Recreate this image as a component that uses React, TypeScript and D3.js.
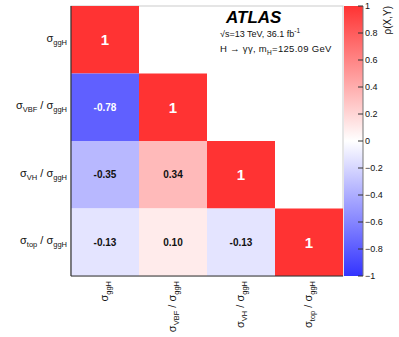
import React from "react";
import * as d3 from "d3";

const categories = ["ggH", "VBF", "VH", "top"];
// lower-triangular correlation matrix rows (row i, col j<=i)
const row0 = [1];
const row1 = [-0.78, 1];
const row2 = [-0.35, 0.34, 1];
const row3 = [-0.13, 0.10, -0.13, 1];
const matrix = [row0, row1, row2, row3];
const colorTicks = [1, 0.8, 0.6, 0.4, 0.2, 0, -0.2, -0.4, -0.6, -0.8, -1];

const W = 399, H = 337;
const X0 = 71, X1 = 343, Y0 = 6, Y1 = 276;
const CB0 = 344, CB1 = 363;
const FONT = "Liberation Sans, Arial, Helvetica, sans-serif";

function SigmaLabel({ name, ratio, ...rest }: any) {
  const main = 11, sub = 7.5;
  return (
    <text fontFamily={FONT} fontSize={main} fill="#111" {...rest}>
      <tspan>σ</tspan>
      <tspan fontSize={sub} dy={3}>{name}</tspan>
      {ratio ? (
        <>
          <tspan dy={-3}> / σ</tspan>
          <tspan fontSize={sub} dy={3}>ggH</tspan>
        </>
      ) : null}
    </text>
  );
}

export default function App() {
  const x = d3.scaleBand<string>().domain(categories).range([X0, X1]);
  const y = d3.scaleBand<string>().domain(categories).range([Y0, Y1]);
  const color = d3.scaleLinear<string>().domain([-1, 0, 1]).range(["#3333ff", "#ffffff", "#ff3333"]);
  const cy = d3.scaleLinear().domain([-1, 1]).range([Y1, Y0]);

  const cells: any[] = [];
  matrix.forEach((row, i) => {
    row.forEach((v, j) => {
      cells.push({ r: categories[i], c: categories[j], v, diag: i === j });
    });
  });

  return (
    <svg width={W} height={H} style={{ position: "absolute", left: 0, top: 0, background: "#fff" }}>
      <defs>
        <linearGradient id="cb" x1="0" y1="1" x2="0" y2="0">
          {d3.range(0, 1.0001, 0.1).map((t) => (
            <stop key={t} offset={t} stopColor={color(-1 + 2 * t)} />
          ))}
        </linearGradient>
      </defs>
      {/* frame */}
      <rect x={X0} y={Y0} width={X1 - X0} height={Y1 - Y0} fill="#fff" stroke="#ccc" strokeWidth={1} />
      {cells.map((d, k) => (
        <g key={k}>
          <rect x={x(d.c)} y={y(d.r)} width={x.bandwidth()} height={y.bandwidth()} fill={color(d.v)} />
          <text
            x={x(d.c)! + x.bandwidth() / 2}
            y={y(d.r)! + y.bandwidth() / 2}
            textAnchor="middle"
            dominantBaseline="central"
            fontFamily={FONT}
            fontWeight="bold"
            fontSize={d.diag ? 15 : 10}
            fill={d.diag || Math.abs(d.v) > 0.6 ? "#fff" : "#111"}
          >
            {d.diag ? "1" : d3.format(".2f")(d.v).replace("−", "-")}
          </text>
        </g>
      ))}
      <line x1={X0} x2={X0} y1={Y0} y2={Y1} stroke="#333" strokeWidth={1.2} />
      <line x1={X0} x2={X1} y1={Y1} y2={Y1} stroke="#333" strokeWidth={1.2} />

      {/* y labels */}
      {categories.map((c, i) => (
        <SigmaLabel key={c} name={c} ratio={i > 0} x={X0 - 4} y={y(c)! + y.bandwidth() / 2 + 2} textAnchor="end" />
      ))}
      {/* x labels */}
      {categories.map((c, i) => (
        <SigmaLabel
          key={c}
          name={c}
          ratio={i > 0}
          textAnchor="end"
          transform={`translate(${x(c)! + x.bandwidth() / 2 + 3},${Y1 + 5}) rotate(-90)`}
        />
      ))}

      {/* color bar */}
      <rect x={CB0} y={Y0} width={CB1 - CB0} height={Y1 - Y0} fill="url(#cb)" />
      <line x1={CB1} x2={CB1} y1={Y0} y2={Y1} stroke="#777" strokeWidth={1} />
      {colorTicks.map((t) => (
        <g key={t}>
          <line x1={CB1 - 5} x2={CB1} y1={cy(t)} y2={cy(t)} stroke="#333" strokeWidth={1} />
          <text x={CB1 + 2} y={cy(t)} dominantBaseline="central" fontFamily={FONT} fontSize={9} fill="#111">
            {t === 0 ? "0" : t < 0 ? "−" + String(Math.abs(t)) : String(t)}
          </text>
        </g>
      ))}
      <text
        transform={`translate(${391},${Y0}) rotate(-90)`}
        textAnchor="end"
        fontFamily={FONT}
        fontSize={10}
        fill="#111"
      >
        ρ(X,Y)
      </text>

      {/* ATLAS labels */}
      <text x={226} y={23} fontFamily={FONT} fontWeight="bold" fontStyle="italic" fontSize={17} fill="#000">
        ATLAS
      </text>
      <text x={220} y={37} fontFamily={FONT} fontSize={9} fill="#111">
        <tspan>√s=13 TeV, 36.1 fb</tspan>
        <tspan fontSize={6.5} dy={-4}>-1</tspan>
      </text>
      <text x={220} y={52} fontFamily={FONT} fontSize={9.5} letterSpacing={0.3} fill="#111">
        <tspan>H → γγ,  m</tspan>
        <tspan fontSize={6.5} dy={3}>H</tspan>
        <tspan dy={-3}>=125.09 GeV</tspan>
      </text>
    </svg>
  );
}
